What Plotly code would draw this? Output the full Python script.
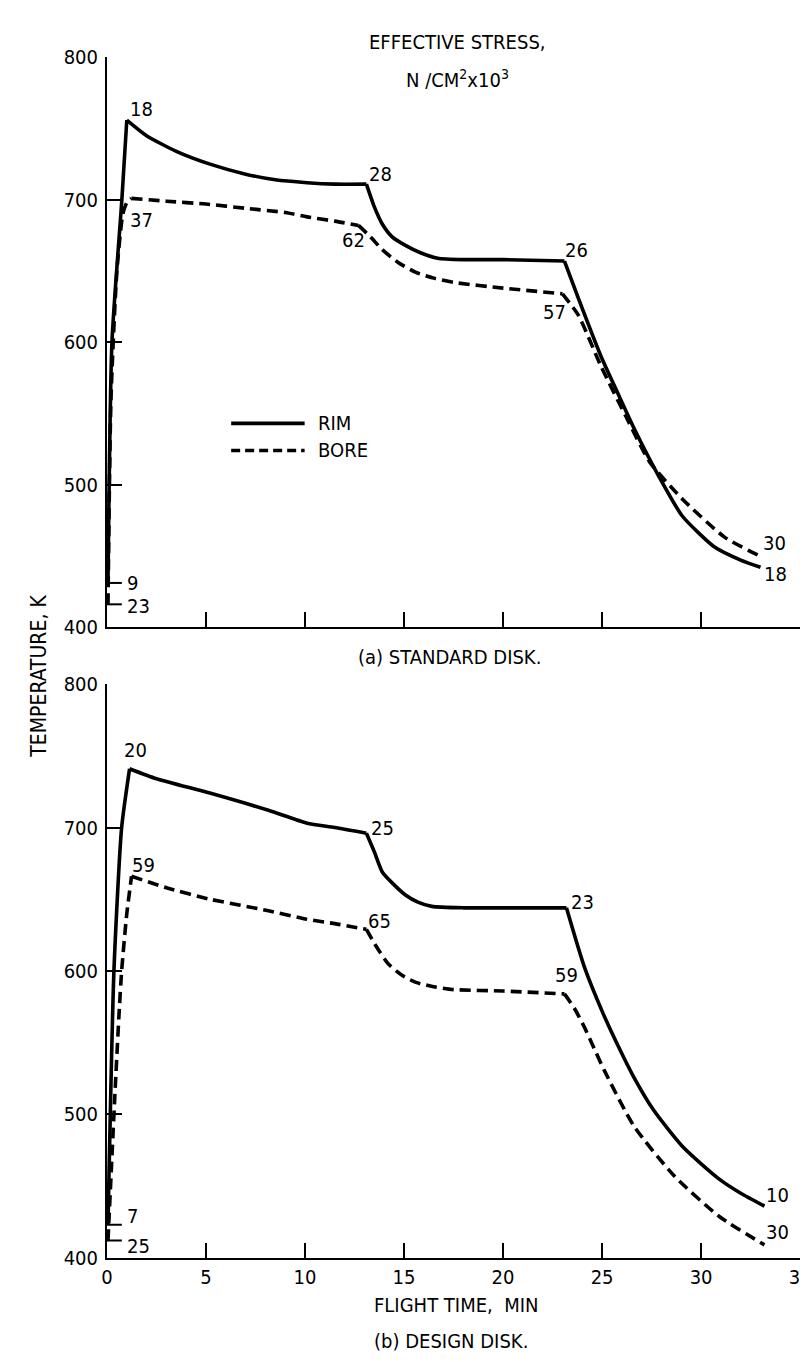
import plotly.graph_objects as go

# ---------------- data ----------------
# (a) STANDARD DISK
rim_a_x = [0.05, 0.25, 0.75, 1.0, 2.0, 3.5, 5.2, 7.0, 8.5, 10.1, 11.5, 13.1, 13.5, 13.9, 14.4,
           15.07, 15.8, 16.7, 18.0, 20.0, 23.1, 23.8, 24.95, 25.8, 26.6, 27.9, 29.05, 30.7, 32.0, 33.0]
rim_a_y = [431, 600, 700, 756, 745, 734, 725, 718, 714, 712, 711, 711, 695, 683, 674,
           668, 663, 659, 658, 658, 657, 631, 590, 564, 540, 505, 478, 456, 447, 442]
bore_a_x = [0.05, 0.2, 0.5, 0.8, 1.0, 1.23, 3.0, 5.0, 7.0, 9.0, 10.1, 11.5, 12.7, 13.3, 13.9,
            14.7, 15.6, 16.5, 17.5, 20.0, 23.0, 23.8, 24.95, 26.2, 27.4, 29.05, 31.2, 32.95]
bore_a_y = [416, 560, 650, 690, 698, 701, 699, 697, 694, 691, 688, 685, 682, 674, 665,
            656, 649, 645, 642, 638, 634, 619, 583, 548, 516, 490, 463, 450]

# (b) DESIGN DISK
rim_b_x = [0.05, 0.35, 0.74, 1.14, 2.5, 5.19, 8.15, 10.1, 11.5, 13.1, 13.5, 13.9, 14.5, 15.07,
           15.7, 16.4, 18.0, 20.0, 23.2, 24.1, 25.0, 25.8, 26.6, 27.6, 29.1, 30.9, 32.0, 33.2]
rim_b_y = [423, 600, 700, 741, 734, 724, 712, 703, 700, 696, 683, 669, 660, 653,
           648, 645, 644, 644, 644, 603, 572, 548, 526, 503, 477, 455, 445, 436]
bore_b_x = [0.05, 0.4, 0.6, 0.74, 1.0, 1.24, 3.0, 5.2, 8.15, 10.1, 11.5, 13.1, 13.6, 14.2,
            14.9, 15.6, 16.5, 17.5, 20.0, 23.1, 23.6, 24.1, 24.6, 25.1, 26.6, 28.65, 30.9, 33.2]
bore_b_y = [412, 514, 568, 600, 640, 666, 658, 650, 642, 636, 633, 629, 617, 605,
            597, 592, 589, 587, 586, 584, 574, 561, 546, 531, 492, 457, 429, 409]

# break points (flight time, min) where the curves have sharp corners
corners_rim_a = [1.0, 13.1, 23.1]
corners_bore_a = [1.23, 12.7, 23.0]
corners_rim_b = [1.14, 13.1, 23.2]
corners_bore_b = [1.24, 13.1, 23.1]

# effective stress labels (N/cm^2 x 10^3): text, x, y
stress_a_text = ["18", "37", "28", "62", "26", "57", "30", "18"]
stress_a_x = [1.73, 1.73, 13.8, 12.45, 23.7, 22.6, 33.7, 33.75]
stress_a_y = [764, 686, 718, 672, 665, 621, 459, 437]
stress_b_text = ["20", "59", "25", "65", "23", "59", "10", "30"]
stress_b_x = [1.43, 1.83, 13.9, 13.75, 24.0, 23.2, 33.85, 33.85]
stress_b_y = [754, 674, 700, 635, 648, 597, 444, 418]

# starting-point markers: stress text, temperature of marker, label height
start_a_text = ["9", "23"]
start_a_y = [431, 416]
start_a_label_y = [431, 415]
start_b_text = ["7", "25"]
start_b_y = [423, 412]
start_b_label_y = [429, 408]

x_ticks = [0, 5, 10, 15, 20, 25, 30, 35]
y_ticks = [400, 500, 600, 700, 800]

# ---------------- figure ----------------
W, H = 808, 1362
FONT = "DejaVu Sans Condensed, Liberation Sans Narrow, Arial Narrow, sans-serif"
FS = 20
x0p, x1p = 95, 803
top_a, bot_a = 38, 618
top_b, bot_b = 676, 1260


def py(p):
    return 1 - p / H


def tfont(size=FS):
    return dict(size=size, family=FONT, color="black")


fig = go.Figure()
LW = 3.6
DASH = "11px,6px"
SM = 0.6


def add_curve(xs, ys, corners, dash, xa, ya):
    idx = [0] + [xs.index(c) for c in corners] + [len(xs) - 1]
    for a, b in zip(idx[:-1], idx[1:]):
        line = dict(color="black", width=LW, shape="spline", smoothing=SM)
        if dash:
            line["dash"] = DASH
        fig.add_trace(go.Scatter(x=xs[a:b + 1], y=ys[a:b + 1], mode="lines", line=line,
                                 xaxis=xa, yaxis=ya, showlegend=False))


add_curve(rim_a_x, rim_a_y, corners_rim_a, False, "x", "y")
add_curve(bore_a_x, bore_a_y, corners_bore_a, True, "x", "y")
add_curve(rim_b_x, rim_b_y, corners_rim_b, False, "x2", "y2")
add_curve(bore_b_x, bore_b_y, corners_bore_b, True, "x2", "y2")

# legend drawn inside the top panel
fig.add_trace(go.Scatter(x=[6.27, 9.98], y=[543, 543], mode="lines",
                         line=dict(color="black", width=LW), xaxis="x", yaxis="y",
                         showlegend=False, hoverinfo="skip"))
fig.add_trace(go.Scatter(x=[6.27, 9.98], y=[524, 524], mode="lines",
                         line=dict(color="black", width=LW, dash="9px,5px"), xaxis="x", yaxis="y",
                         showlegend=False, hoverinfo="skip"))

ann = []
ann.append(dict(x=10.55, y=543, xref="x", yref="y", text="RIM", showarrow=False,
                xanchor="left", yanchor="middle", font=tfont()))
ann.append(dict(x=10.55, y=524, xref="x", yref="y", text="BORE", showarrow=False,
                xanchor="left", yanchor="middle", font=tfont()))

for t, x, y in zip(stress_a_text, stress_a_x, stress_a_y):
    ann.append(dict(x=x, y=y, xref="x", yref="y", text=t, showarrow=False,
                    xanchor="center", yanchor="middle", font=tfont()))
for t, x, y in zip(stress_b_text, stress_b_x, stress_b_y):
    ann.append(dict(x=x, y=y, xref="x2", yref="y2", text=t, showarrow=False,
                    xanchor="center", yanchor="middle", font=tfont()))

shapes = []
for t, y, ly in zip(start_a_text, start_a_y, start_a_label_y):
    shapes.append(dict(type="line", xref="x", yref="y", x0=0, x1=0.75, y0=y, y1=y,
                       line=dict(color="black", width=2)))
    ann.append(dict(x=0.9, y=ly, xref="x", yref="y", text=t, showarrow=False, xanchor="left",
                    yanchor="middle", font=tfont()))
for t, y, ly in zip(start_b_text, start_b_y, start_b_label_y):
    shapes.append(dict(type="line", xref="x2", yref="y2", x0=0, x1=0.75, y0=y, y1=y,
                       line=dict(color="black", width=2)))
    ann.append(dict(x=0.9, y=ly, xref="x2", yref="y2", text=t, showarrow=False, xanchor="left",
                    yanchor="middle", font=tfont()))

# titles / captions
cap = [("EFFECTIVE STRESS,", 453, 22), ("N /CM<sup>2</sup>x10<sup>3</sup>", 453, 60),
       ("(a) STANDARD DISK.", 445, 648), ("FLIGHT TIME,  MIN", 452, 1308),
       ("(b) DESIGN DISK.", 446, 1345)]
for t, xp, ypx in cap:
    ann.append(dict(x=xp / W, y=py(ypx), xref="paper", yref="paper", text=t, showarrow=False,
                    xanchor="center", yanchor="middle", font=tfont()))
ann.append(dict(x=26 / W, y=py(668), xref="paper", yref="paper", text="TEMPERATURE, K",
                showarrow=False, textangle=-90, xanchor="center", yanchor="middle",
                font=tfont(21)))

axis_common = dict(showline=True, linecolor="black", linewidth=2, ticks="inside", ticklen=15,
                   tickwidth=2, tickcolor="black", showgrid=False, zeroline=False,
                   tickfont=tfont())

fig.update_layout(
    width=W, height=H, autosize=False,
    margin=dict(l=0, r=0, t=0, b=0),
    paper_bgcolor="white", plot_bgcolor="white",
    showlegend=False,
    xaxis=dict(domain=[x0p / W, x1p / W], range=[0, 35], anchor="y", tickvals=x_ticks,
               showticklabels=False, **axis_common),
    yaxis=dict(domain=[py(bot_a), py(top_a)], range=[400, 800], anchor="x", tickvals=y_ticks,
               ticklabelstandoff=3, **axis_common),
    xaxis2=dict(domain=[x0p / W, x1p / W], range=[0, 35], anchor="y2", tickvals=x_ticks,
                ticktext=[str(v) for v in x_ticks], ticklabeloverflow="allow", **axis_common),
    yaxis2=dict(domain=[py(bot_b), py(top_b)], range=[400, 800], anchor="x2", tickvals=y_ticks,
                ticklabelstandoff=3, **axis_common),
    annotations=ann,
    shapes=shapes,
)

fig.write_html("out.html")
